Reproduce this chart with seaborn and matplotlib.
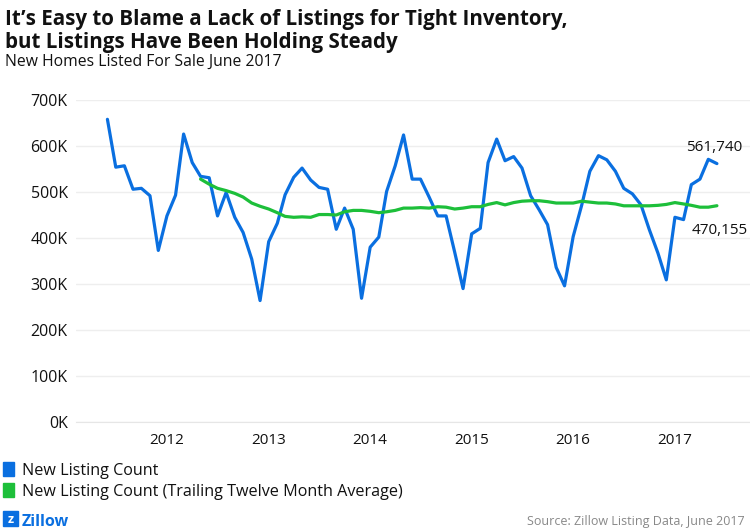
import pandas as pd
import matplotlib
matplotlib.use('Agg')
import matplotlib.pyplot as plt
import matplotlib.dates as mdates
import seaborn as sns

# monthly new listings, June 2011 - June 2017
months = pd.date_range('2011-06-01', periods=73, freq='MS')
listings = [658, 554, 557, 506, 508, 492, 373,
            448, 493, 626, 564, 534, 531, 448, 499, 445, 412, 354, 264,
            392, 432, 494, 532, 552, 526, 510, 506, 419, 465, 419, 269,
            380, 402, 501, 557, 624, 528, 528, 489, 448, 448, 369, 290,
            409, 421, 564, 615, 568, 577, 552, 492, 461, 429, 336, 296,
            403, 472, 545, 579, 570, 545, 508, 496, 472, 418, 367, 309,
            445, 440, 516, 528, 571, 561.74]
# trailing twelve month average, starts May 2012
ttm = [528, 517, 508, 503, 497, 489, 476, 469,
       463, 455, 447, 445, 446, 445, 451, 451, 450, 457, 460, 460,
       458, 455, 457, 460, 465, 465, 466, 465, 468, 467, 463, 465,
       468, 468, 473, 477, 472, 477, 480, 481, 481, 479, 476, 476,
       476, 480, 478, 476, 476, 474, 470, 470, 470, 470, 471, 473,
       477, 474, 471, 467, 467, 470.155]
year_ticks = ['2012', '2013', '2014', '2015', '2016', '2017']
y_ticks = [0, 100, 200, 300, 400, 500, 600, 700]

df = pd.DataFrame({'date': months, 'count': [v * 1000 for v in listings]})
df_ttm = pd.DataFrame({'date': months[-len(ttm):], 'avg': [v * 1000 for v in ttm]})

blue = '#0A6FE0'
green = '#1DBF3A'

sns.set_style('white')
plt.rcParams['font.family'] = ['Open Sans', 'DejaVu Sans']

fig = plt.figure(figsize=(7.5, 5.31), dpi=100)
ax = fig.add_axes([76 / 750, 1 - 422 / 531, 674 / 750, 322 / 531])

sns.lineplot(data=df, x='date', y='count', color=blue, linewidth=2.3, ax=ax)
sns.lineplot(data=df_ttm, x='date', y='avg', color=green, linewidth=2.3, ax=ax)

ax.set_ylim(0, 700000)
ax.set_xlim(pd.Timestamp('2011-02-08'), pd.Timestamp('2017-09-28'))
ax.set_yticks([v * 1000 for v in y_ticks])
ax.set_yticklabels([f'{v}K' for v in y_ticks], fontsize=11.5, color='#111111')
ax.set_xticks([pd.Timestamp(f'{y}-01-01') for y in year_ticks])
ax.set_xticklabels(year_ticks, fontsize=11, color='#111111')
ax.xaxis.set_minor_locator(mdates.MonthLocator())
ax.tick_params(axis='x', which='major', length=4, color='#dddddd', pad=4)
ax.tick_params(axis='x', which='minor', length=2, color='#dddddd')
ax.tick_params(axis='y', length=0, pad=6)
ax.grid(axis='y', color='#eeeeee', linewidth=1)
ax.set_xlabel('')
ax.set_ylabel('')
for s in ['top', 'right', 'left']:
    ax.spines[s].set_visible(False)
ax.spines['bottom'].set_color('#e6e6e6')
ax.set_axisbelow(True)

ax.annotate('561,740', (months[-1], listings[-1] * 1000), xytext=(-22, 9),
            textcoords='offset points', fontsize=11, color='#111111')
ax.annotate('470,155', (months[-1], ttm[-1] * 1000), xytext=(-18, -20),
            textcoords='offset points', fontsize=11, color='#111111')

fig.text(5 / 750, 1 - 25 / 531, 'It\u2019s Easy to Blame a Lack of Listings for Tight Inventory,',
         fontsize=14.8, fontweight='bold', color='#111111')
fig.text(5 / 750, 1 - 48 / 531, 'but Listings Have Been Holding Steady',
         fontsize=14.8, fontweight='bold', color='#111111')
fig.text(5 / 750, 1 - 66 / 531, 'New Homes Listed For Sale June 2017',
         fontsize=11.3, color='#111111')

# legend
fig.patches.append(plt.Rectangle((3 / 750, 1 - 476 / 531), 11 / 750, 14 / 531,
                                 color=blue, transform=fig.transFigure))
fig.patches.append(plt.Rectangle((3 / 750, 1 - 497 / 531), 11 / 750, 14 / 531,
                                 color=green, transform=fig.transFigure))
fig.text(22 / 750, 1 - 475 / 531, 'New Listing Count', fontsize=11.6, color='#111111')
fig.text(22 / 750, 1 - 496 / 531, 'New Listing Count (Trailing Twelve Month Average)',
         fontsize=11.6, color='#111111')

# footer
fig.patches.append(plt.Rectangle((3 / 750, 1 - 526 / 531), 15 / 750, 15 / 531,
                                 color=blue, transform=fig.transFigure))
fig.text(10.5 / 750, 1 - 523 / 531, 'z', fontsize=9, fontweight='bold', color='white',
         ha='center')
fig.text(22 / 750, 1 - 526 / 531, 'Zillow', fontsize=11.5, fontweight='bold', color=blue)
fig.text(745 / 750, 1 - 525 / 531, 'Source: Zillow Listing Data, June 2017',
         fontsize=9, color='#888888', ha='right')

fig.savefig('out.png', dpi=100)
